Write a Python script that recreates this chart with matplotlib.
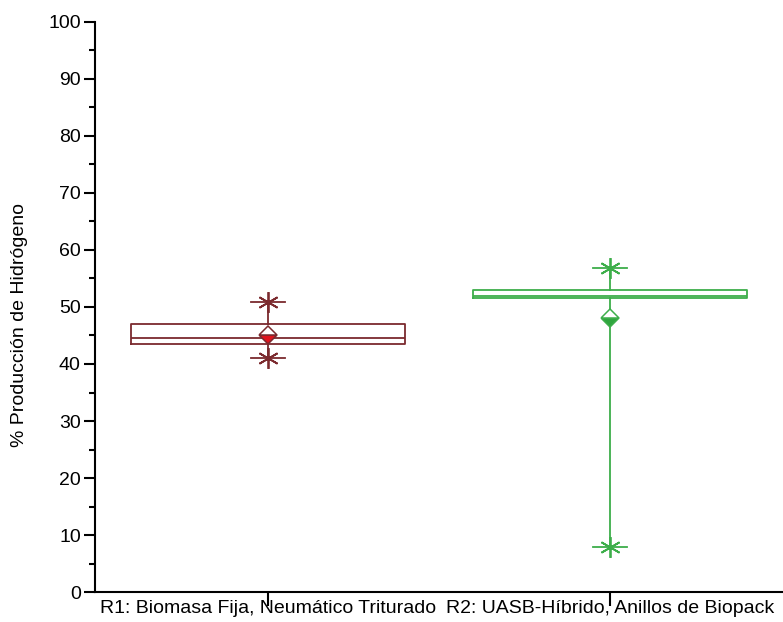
"""
Boxplot of hydrogen production for two reactor configurations.
"""

import matplotlib
matplotlib.use('Agg')
import matplotlib.pyplot as plt

# Categories and box statistics
labels = ['R1: Biomasa Fija, Neumático Triturado', 'R2: UASB-Híbrido, Anillos de Biopack']
q1 = [43.5, 51.5]
medians = [44.5, 52.0]
q3 = [47.0, 53.0]
whisker_low = [41.0, 8.0]
whisker_high = [50.8, 56.8]
means = [45.0, 48.0]

box_colors = ['#7B2A2E', '#3DAE4A']
mean_colors = ['#E0141E', '#2FA53E']

plt.rcParams['font.family'] = ['Liberation Sans', 'DejaVu Sans']

fig = plt.figure(figsize=(7.83, 6.22), dpi=100)
ax = fig.add_axes([0.121, 0.048, 0.879, 0.917])

positions = [1, 2]
for i, pos in enumerate(positions):
    stats = [{
        'med': medians[i], 'q1': q1[i], 'q3': q3[i],
        'whislo': whisker_low[i], 'whishi': whisker_high[i],
        'mean': means[i], 'fliers': [],
    }]
    c = box_colors[i]
    ax.bxp(stats, positions=[pos], widths=0.8, showmeans=True,
           boxprops=dict(color=c, linewidth=1.3),
           medianprops=dict(color=c, linewidth=1.3),
           whiskerprops=dict(color=c, linewidth=1.3),
           capprops=dict(color=c, linewidth=1.3),
           capwidths=0.1,
           meanprops=dict(marker='D', markersize=9, fillstyle='bottom',
                          markerfacecolor=mean_colors[i],
                          markerfacecoloralt='white',
                          markeredgecolor=c, markeredgewidth=1.1))
    # min / max markers (asterisk) at whisker ends
    ax.plot([pos, pos], [whisker_low[i], whisker_high[i]], linestyle='none',
            marker=(6, 2, 0), markersize=15, markeredgewidth=1.3, color=c, zorder=4)

ax.set_xlim(0.495, 2.505)
ax.set_ylim(0, 100)
ax.set_yticks(range(0, 101, 10))
ax.set_yticks(range(5, 100, 10), minor=True)
ax.set_xticks(positions)
ax.set_xticklabels(labels, fontsize=14)
ax.tick_params(axis='y', which='major', labelsize=14, length=8, width=1.5, pad=2)
ax.tick_params(axis='y', which='minor', length=4, width=1.5)
ax.tick_params(axis='x', length=10, width=1.5, pad=-4)
ax.set_ylabel('% Producción de Hidrógeno', fontsize=14)
ax.yaxis.set_label_coords(-0.097, 0.468)

ax.spines['top'].set_visible(False)
ax.spines['right'].set_visible(False)
ax.spines['left'].set_linewidth(1.5)
ax.spines['bottom'].set_linewidth(1.5)

plt.savefig('out.png', dpi=100)
plt.close()
